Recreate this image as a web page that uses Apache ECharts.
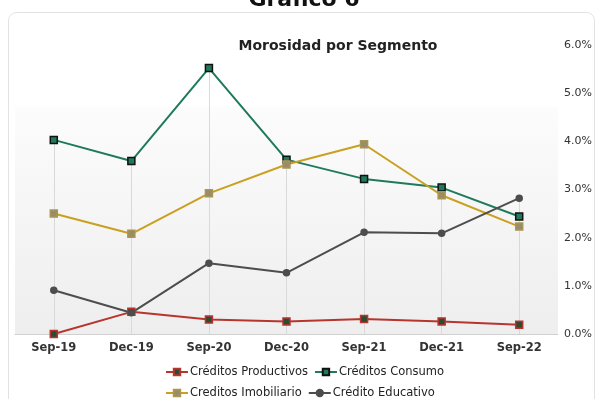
<!DOCTYPE html>
<html>
<head>
<meta charset="utf-8">
<script src="https://cdn.jsdelivr.net/npm/echarts@6/dist/echarts.min.js"></script>
<style>
  html, body { margin: 0; padding: 0; background: #fff; }
  #chart { width: 598px; height: 399px; }
</style>
</head>
<body>
<div id="chart"></div>
<script>
const categories = ['Sep-19', 'Dec-19', 'Sep-20', 'Dec-20', 'Sep-21', 'Dec-21', 'Sep-22']
const productivos = [0.0, 0.46, 0.30, 0.26, 0.31, 0.26, 0.19]
const consumo = [4.03, 3.59, 5.52, 3.62, 3.22, 3.04, 2.44]
const imobiliario = [2.50, 2.08, 2.92, 3.52, 3.94, 2.88, 2.23]
const educativo = [0.91, 0.44, 1.47, 1.27, 2.11, 2.09, 2.82]
const yTicks = [0, 1, 2, 3, 4, 5, 6]

const font = 'DejaVu Sans'
const chart = echarts.init(document.getElementById('chart'))

// drop lines from the highest point of each period down to the axis
const dropLines = categories.map((c, i) => {
  const top = Math.max(productivos[i], consumo[i], imobiliario[i], educativo[i])
  return [{ coord: [c, 0] }, { coord: [c, top] }]
})

const lineSeries = (name, data, color, symbol, symbolColor, borderColor) => ({
  name,
  type: 'line',
  data,
  symbol,
  symbolSize: symbol === 'circle' ? 6 : 7,
  lineStyle: { color, width: 2 },
  itemStyle: { color: symbolColor, borderColor, borderWidth: 1.5 },
  emphasis: { disabled: true },
  z: 3,
})

const legendText = { fontSize: 11.5, color: '#222', fontFamily: font, padding: [0, 0, 0, -3] }

chart.setOption({
  animation: false,
  textStyle: { fontFamily: font },
  title: [
    {
      text: 'Gráfico 6',
      left: 299,
      top: -16,
      textAlign: 'center',
      textStyle: { fontSize: 22, fontWeight: 'bold', color: '#111', fontFamily: font },
    },
    {
      text: 'Morosidad por Segmento',
      left: 333,
      top: 34,
      textAlign: 'center',
      textStyle: { fontSize: 14, fontWeight: 'bold', color: '#222', fontFamily: font },
    },
  ],
  graphic: [
    {
      type: 'rect',
      shape: { x: 8.5, y: 12.5, width: 586, height: 400, r: 8 },
      style: { fill: 'none', stroke: '#e2e2e2', lineWidth: 1 },
      z: -10,
    },
  ],
  grid: {
    left: 15,
    right: 40,
    top: 45,
    bottom: 65,
    show: true,
    borderWidth: 0,
    backgroundColor: new echarts.graphic.LinearGradient(0, 0, 0, 1, [
      { offset: 0, color: '#ffffff' },
      { offset: 0.21, color: '#ffffff' },
      { offset: 0.215, color: '#fcfcfc' },
      { offset: 1, color: '#eeeeee' },
    ]),
  },
  legend: [
    {
      data: ['Créditos Productivos', 'Créditos Consumo'],
      left: 160,
      top: 361,
      itemWidth: 22,
      itemHeight: 8,
      itemGap: 6,
      textStyle: legendText,
    },
    {
      data: ['Creditos Imobiliario', 'Crédito Educativo'],
      left: 160,
      top: 382,
      itemWidth: 22,
      itemHeight: 8,
      itemGap: 6,
      textStyle: legendText,
    },
  ],
  xAxis: {
    type: 'category',
    data: categories,
    boundaryGap: true,
    axisLine: { lineStyle: { color: '#d0d0d0', width: 1 } },
    axisTick: { show: false },
    axisLabel: { color: '#333', fontSize: 11.5, fontWeight: 'bold', margin: 8 },
    splitLine: { show: false },
  },
  yAxis: {
    type: 'value',
    position: 'right',
    min: yTicks[0],
    max: yTicks[yTicks.length - 1],
    interval: 1,
    axisLine: { show: false },
    axisTick: { show: false },
    splitLine: { show: false },
    axisLabel: {
      color: '#333',
      fontSize: 11,
      margin: 6,
      align: 'left',
      formatter: (v) => v.toFixed(1) + '%',
    },
  },
  series: [
    {
      ...lineSeries('Créditos Productivos', productivos, '#b8352e', 'rect', '#2d4a33', '#b8352e'),
      markLine: {
        silent: true,
        symbol: 'none',
        label: { show: false },
        lineStyle: { color: '#d9d9d9', width: 1, type: 'solid' },
        data: dropLines,
        z: 1,
      },
    },
    lineSeries('Créditos Consumo', consumo, '#1f7a5c', 'rect', '#1f7a5c', '#111'),
    lineSeries('Creditos Imobiliario', imobiliario, '#c9a020', 'rect', '#9b8c68', '#a89656'),
    lineSeries('Crédito Educativo', educativo, '#4d4d4d', 'circle', '#4d4d4d', '#4d4d4d'),
  ],
})
</script>
</body>
</html>
